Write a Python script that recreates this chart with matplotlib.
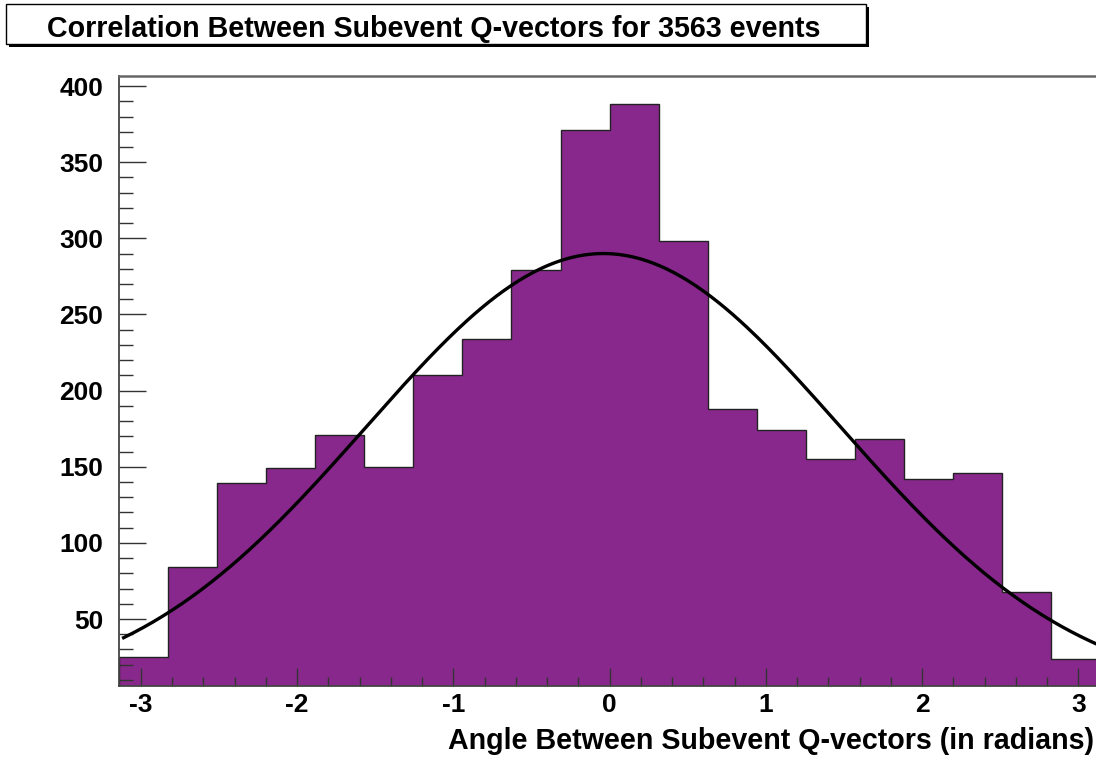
import matplotlib
matplotlib.use("Agg")
import matplotlib.pyplot as plt
import numpy as np
from matplotlib.patches import Rectangle
from matplotlib.ticker import MultipleLocator

# bin contents, 20 bins between -pi and pi
counts = [25, 84, 139, 149, 171, 150, 210, 234, 279, 371,
          388, 298, 188, 174, 155, 168, 142, 146, 68, 24]
x_lo, x_hi = -np.pi, np.pi
n_events = 3563

# gaussian fit
fit_const = 290.0
fit_mean = -0.04
fit_sigma = 1.52
fit_lo, fit_hi = -3.11, 3.11

title_txt = "Correlation Between Subevent Q-vectors for %d events" % n_events
xlab_txt = "Angle Between Subevent Q-vectors (in radians)"

W, H = 1096, 759
purple = "#88288c"
plt.rcParams['font.family'] = ['Liberation Sans', 'DejaVu Sans']

fig = plt.figure(figsize=(W/100, H/100), dpi=100)

def px(x, y):
    # pixel coords (from top left) -> figure fraction
    return x/W, 1 - y/H

# axes frame, right side runs just past the image edge
l, t, r, b = 118.7, 75.7, 1100.5, 685.7
ax = fig.add_axes([l/W, 1 - b/H, (r-l)/W, (b-t)/H])

edges = np.linspace(x_lo, x_hi, len(counts)+1)
ax.stairs(counts, edges, fill=True, color=purple, baseline=0, zorder=1)
ax.stairs(counts, edges, color="#222222", lw=1.0, baseline=0, zorder=2)

xf = np.linspace(fit_lo, fit_hi, 400)
yf = fit_const*np.exp(-0.5*((xf-fit_mean)/fit_sigma)**2)
ax.plot(xf, yf, color="black", lw=2.4, zorder=3)

ax.set_xlim(x_lo, x_hi)
ax.set_ylim(6.2, 406.8)

ax.xaxis.set_major_locator(MultipleLocator(1))
ax.xaxis.set_minor_locator(MultipleLocator(0.2))
ax.yaxis.set_major_locator(MultipleLocator(50))
ax.yaxis.set_minor_locator(MultipleLocator(10))
ax.set_yticks(np.arange(50, 401, 50))

ax.tick_params(axis='x', which='major', direction='in', length=13, width=1.0, color="#333333",
               labelsize=19, pad=5)
ax.tick_params(axis='x', which='minor', direction='in', length=6.5, width=1.0, color="#333333")
ax.tick_params(axis='y', which='major', direction='in', length=19.5, width=1.0, color="#333333",
               labelsize=19, pad=11)
ax.tick_params(axis='y', which='minor', direction='in', length=10, width=1.0, color="#333333")
for lab in ax.get_xticklabels() + ax.get_yticklabels():
    lab.set_fontweight('bold')

for side in ['left', 'bottom', 'top', 'right']:
    ax.spines[side].set_color("#444444")
    ax.spines[side].set_linewidth(1.3)
ax.spines['top'].set_color("#666666")
ax.spines['top'].set_linewidth(1.8)

ax.set_xticks(np.arange(-3, 4, 1))
ax.set_xticklabels([str(v) for v in range(-3, 4)])

# x title, right aligned against the frame
fig.text(*px(1094, 749), xlab_txt, ha='right', va='baseline', fontsize=20.6, fontweight='bold')

# title box with shadow
bx0, by0, bx1, by1 = 6, 3.5, 866, 43.5
sh = 3
fig.patches.append(Rectangle(px(bx0+sh, by1+sh), (bx1-bx0)/W, (by1-by0)/H,
                             transform=fig.transFigure, facecolor='black', edgecolor='none', zorder=5))
fig.patches.append(Rectangle(px(bx0, by1), (bx1-bx0)/W, (by1-by0)/H,
                             transform=fig.transFigure, facecolor='white', edgecolor='black', lw=1.0, zorder=6))
fig.text(*px(47, 36.7), title_txt, ha='left', va='baseline', fontsize=20.6, fontweight='bold', zorder=7)

fig.savefig("out.png", dpi=100)
